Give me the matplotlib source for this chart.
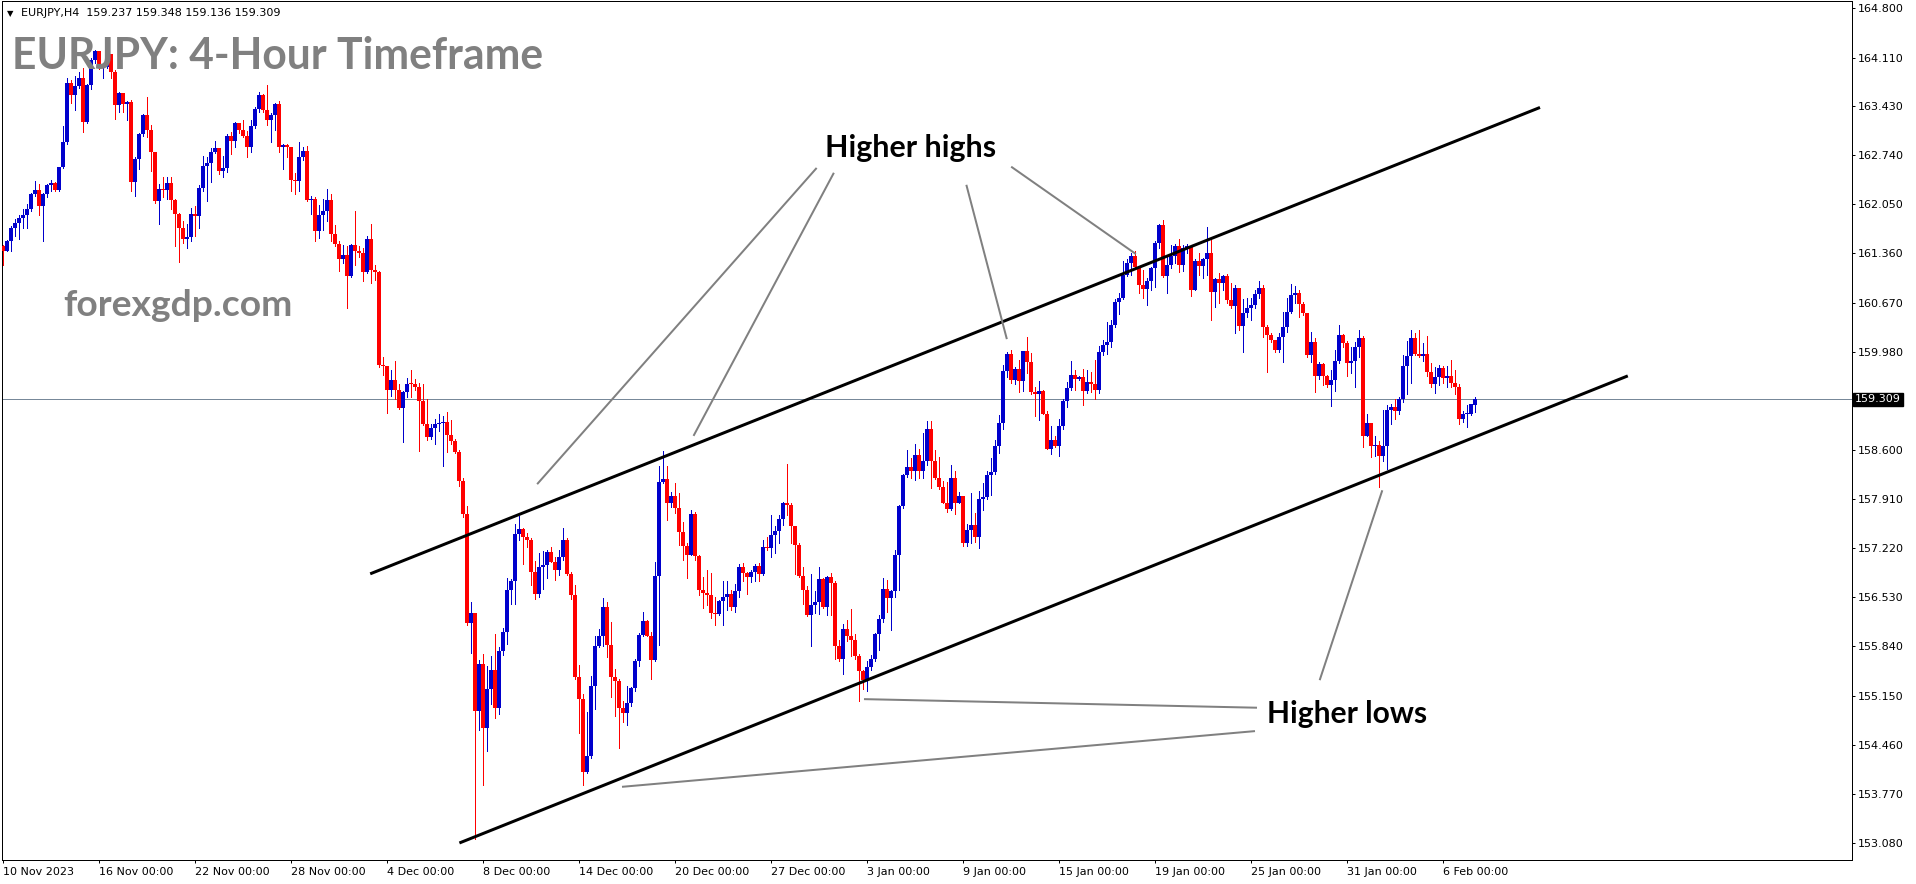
import matplotlib
matplotlib.use("Agg")
import matplotlib.pyplot as plt
import numpy as np

W, H, DPI = 1916, 884, 100

# EURJPY H4 bars, bar 0 = 10 Nov 2023 00:00. Open of a bar = close of the bar before.
first_open = 161.46
last_open = 159.237

closes = [
    161.40, 161.53, 161.72, 161.79, 161.86, 161.90, 161.98, 162.19, 162.25, 162.02,
    162.19, 162.32, 162.35, 162.25, 162.57, 162.93, 163.76, 163.59, 163.71, 163.82,
    163.21, 163.73, 164.08, 164.20, 163.96, 163.98, 164.16, 163.91, 163.45, 163.61,
    163.46, 163.49, 162.37, 162.68, 163.04, 163.30, 163.09, 162.78, 162.09, 162.27,
    162.25, 162.35, 162.11, 161.91, 161.72, 161.56, 161.59, 161.91, 161.88, 162.28,
    162.59, 162.63, 162.79, 162.84, 162.52, 162.56, 163.01, 162.94, 163.19, 163.09,
    163.01, 162.86, 163.15, 163.39, 163.59, 163.37, 163.23, 163.30, 163.46, 162.86,
    162.88, 162.86, 162.39, 162.38, 162.71, 162.80, 162.11, 162.13, 161.68, 161.90,
    161.96, 162.11, 161.63, 161.49, 161.28, 161.34, 161.04, 161.48, 161.40, 161.37,
    161.10, 161.56, 161.13, 161.10, 159.79, 159.78, 159.44, 159.58, 159.44, 159.19,
    159.42, 159.53, 159.52, 159.48, 159.29, 158.96, 158.78, 158.91, 158.96, 158.98,
    158.99, 158.81, 158.73, 158.57, 158.16, 157.70, 156.17, 156.31, 154.94, 155.60,
    154.70, 155.24, 155.51, 154.97, 155.77, 156.04, 156.63, 156.76, 157.42, 157.49,
    157.38, 157.33, 156.89, 156.57, 156.96, 156.99, 157.17, 157.03, 156.91, 157.09,
    157.34, 156.86, 156.56, 155.41, 155.10, 154.07, 154.30, 155.28, 155.85, 155.98,
    156.40, 155.86, 155.41, 155.36, 154.97, 154.91, 155.04, 155.25, 155.63, 156.00,
    156.20, 155.99, 155.65, 156.83, 158.15, 158.19, 157.86, 157.95, 157.79, 157.45,
    157.25, 157.13, 157.70, 157.11, 156.63, 156.59, 156.56, 156.31, 156.29, 156.48,
    156.54, 156.57, 156.40, 156.62, 156.95, 156.87, 156.82, 156.88, 156.97, 156.86,
    157.23, 157.22, 157.41, 157.46, 157.63, 157.86, 157.82, 157.53, 157.27, 156.83,
    156.63, 156.28, 156.42, 156.47, 156.79, 156.40, 156.82, 156.73, 155.85, 155.66,
    156.09, 155.98, 155.93, 155.71, 155.49, 155.37, 155.55, 155.66, 156.02, 156.22,
    156.64, 156.52, 156.62, 157.12, 157.81, 158.25, 158.36, 158.30, 158.53, 158.30,
    158.45, 158.89, 158.45, 158.20, 158.08, 157.86, 157.77, 158.20, 157.86, 157.95,
    157.30, 157.47, 157.55, 157.38, 157.91, 157.94, 158.25, 158.29, 158.66, 158.98,
    159.71, 159.95, 159.58, 159.73, 159.57, 159.99, 159.84, 159.42, 159.38, 159.43,
    159.10, 158.62, 158.74, 158.66, 158.94, 159.29, 159.47, 159.65, 159.60, 159.62,
    159.43, 159.56, 159.53, 159.44, 159.98, 160.08, 160.12, 160.36, 160.68, 160.73,
    161.06, 161.23, 161.32, 161.17, 160.92, 160.86, 160.97, 161.15, 161.50, 161.76,
    161.04, 161.20, 161.32, 161.46, 161.20, 161.43, 161.46, 160.85, 161.26, 161.18,
    161.28, 161.36, 160.82, 161.00, 160.95, 161.04, 160.71, 160.62, 160.87, 160.34,
    160.53, 160.59, 160.64, 160.79, 160.88, 160.33, 160.21, 160.14, 160.00, 160.19,
    160.32, 160.54, 160.78, 160.81, 160.65, 160.52, 159.93, 160.12, 159.64, 159.81,
    159.64, 159.51, 159.58, 159.85, 160.21, 160.10, 159.82, 159.85, 160.04, 160.17,
    158.80, 158.98, 158.65, 158.67, 158.51, 158.65, 159.16, 159.21, 159.14, 159.31,
    159.78, 159.92, 160.17, 159.95, 159.92, 159.95, 159.70, 159.53, 159.63, 159.75,
    159.61, 159.64, 159.54, 159.49, 159.04, 159.10, 159.11, 159.24, 159.309,
]

highs = [
    161.48, 161.55, 161.74, 161.85, 161.90, 161.99, 162.06, 162.21, 162.38, 162.34,
    162.21, 162.34, 162.39, 162.36, 162.58, 163.15, 163.83, 163.80, 163.85, 163.91,
    163.96, 163.74, 164.10, 164.22, 164.10, 164.02, 164.26, 164.05, 163.94, 163.62,
    163.61, 163.50, 163.52, 162.71, 163.05, 163.32, 163.56, 163.16, 162.79, 162.33,
    162.44, 162.44, 162.44, 162.12, 161.93, 161.81, 161.78, 162.00, 162.02, 162.32,
    162.73, 162.72, 162.84, 162.94, 162.81, 162.73, 163.04, 163.06, 163.20, 163.19,
    163.23, 163.08, 163.23, 163.42, 163.62, 163.60, 163.73, 163.33, 163.47, 163.50,
    162.90, 162.90, 162.86, 162.49, 162.93, 162.86, 162.87, 162.16, 162.15, 162.04,
    162.12, 162.26, 162.20, 161.76, 161.53, 161.48, 161.46, 161.49, 161.96, 161.47,
    161.43, 161.60, 161.78, 161.20, 161.12, 159.91, 159.66, 159.72, 159.85, 159.52,
    159.43, 159.61, 159.72, 159.59, 159.54, 159.52, 159.32, 158.96, 159.04, 159.10,
    159.07, 159.13, 159.02, 158.76, 158.60, 158.21, 157.81, 156.46, 156.31, 155.65,
    155.74, 155.57, 155.70, 156.02, 155.83, 156.10, 156.80, 156.79, 157.56, 157.67,
    157.51, 157.44, 157.37, 157.04, 157.15, 157.18, 157.19, 157.23, 157.09, 157.20,
    157.50, 157.36, 156.88, 156.70, 155.58, 155.17, 154.92, 155.42, 155.98, 156.09,
    156.52, 156.47, 156.19, 155.52, 155.39, 155.07, 155.29, 155.27, 155.66, 156.03,
    156.33, 156.21, 156.05, 157.03, 158.37, 158.59, 158.37, 158.01, 158.14, 157.99,
    157.59, 157.29, 157.75, 157.73, 157.12, 156.81, 156.92, 156.87, 156.54, 156.49,
    156.76, 156.76, 156.63, 156.72, 157.00, 157.01, 156.88, 156.92, 157.00, 157.01,
    157.34, 157.38, 157.69, 157.53, 157.69, 157.87, 158.40, 157.85, 157.51, 157.29,
    156.96, 156.69, 156.86, 156.62, 156.96, 156.80, 156.83, 156.87, 156.76, 155.93,
    156.15, 156.21, 156.36, 156.02, 155.74, 155.51, 155.64, 155.72, 156.03, 156.28,
    156.80, 156.78, 156.63, 157.19, 157.83, 158.26, 158.60, 158.48, 158.68, 158.61,
    158.84, 159.00, 159.01, 158.60, 158.50, 158.17, 158.15, 158.39, 158.30, 158.01,
    157.91, 157.56, 157.99, 157.71, 158.03, 158.13, 158.31, 158.48, 158.74, 159.09,
    159.79, 159.97, 160.01, 159.77, 159.86, 159.99, 160.19, 159.96, 159.49, 159.57,
    159.44, 159.14, 158.94, 158.80, 159.03, 159.31, 159.55, 159.85, 159.72, 159.64,
    159.73, 159.72, 159.70, 159.86, 160.06, 160.14, 160.39, 160.42, 160.72, 160.81,
    161.25, 161.28, 161.36, 161.39, 161.17, 161.13, 161.01, 161.17, 161.53, 161.78,
    161.83, 161.34, 161.48, 161.49, 161.56, 161.48, 161.49, 161.43, 161.28, 161.37,
    161.29, 161.73, 161.57, 161.01, 161.09, 161.06, 161.07, 160.94, 160.92, 160.87,
    160.72, 160.73, 160.74, 160.84, 160.97, 160.92, 160.36, 160.24, 160.12, 160.24,
    160.54, 160.73, 160.93, 160.90, 160.84, 160.68, 160.52, 160.25, 160.17, 159.83,
    159.82, 159.65, 159.72, 160.00, 160.35, 160.23, 160.13, 160.04, 160.11, 160.28,
    160.20, 159.11, 158.93, 158.79, 158.72, 159.16, 159.23, 159.25, 159.32, 159.34,
    159.93, 160.13, 160.28, 160.24, 160.28, 160.10, 160.20, 159.82, 159.77, 159.79,
    159.78, 159.78, 159.86, 159.72, 159.53, 159.14, 159.23, 159.25, 159.348,
]

lows = [
    161.20, 161.39, 161.39, 161.60, 161.56, 161.71, 161.71, 161.96, 162.17, 161.90,
    161.53, 162.15, 162.24, 162.24, 162.24, 162.56, 162.89, 163.47, 163.38, 163.69,
    163.06, 163.19, 163.67, 164.03, 163.95, 163.83, 163.97, 163.82, 163.25, 163.35,
    163.34, 163.23, 162.24, 162.16, 162.55, 163.01, 163.00, 162.52, 162.07, 161.78,
    162.15, 162.13, 161.99, 161.46, 161.24, 161.50, 161.43, 161.53, 161.60, 161.71,
    162.24, 162.10, 162.37, 162.77, 162.48, 162.44, 162.51, 162.76, 162.85, 163.05,
    163.00, 162.72, 162.78, 163.12, 163.35, 163.35, 163.16, 162.93, 163.10, 162.79,
    162.54, 162.72, 162.24, 162.20, 162.23, 162.67, 162.09, 161.92, 161.54, 161.57,
    161.69, 161.81, 161.53, 161.46, 161.12, 161.22, 160.60, 161.03, 161.20, 161.31,
    160.97, 161.08, 160.95, 160.98, 159.76, 159.65, 159.12, 159.36, 159.32, 159.17,
    158.71, 159.34, 159.34, 159.44, 158.58, 158.95, 158.74, 158.75, 158.69, 158.86,
    158.38, 158.57, 158.69, 158.56, 158.09, 157.66, 156.14, 155.75, 153.14, 154.66,
    153.89, 154.37, 155.03, 154.84, 154.89, 155.72, 155.87, 156.44, 156.44, 157.33,
    157.00, 157.24, 156.71, 156.51, 156.54, 156.65, 156.80, 157.02, 156.78, 156.84,
    157.05, 156.84, 156.50, 155.39, 154.62, 153.89, 154.06, 154.27, 154.96, 155.83,
    155.84, 155.69, 155.13, 154.86, 154.42, 154.78, 154.74, 155.00, 155.22, 155.56,
    155.98, 155.98, 155.39, 155.63, 155.86, 158.13, 157.61, 157.80, 157.71, 157.27,
    157.05, 156.80, 157.12, 157.05, 156.56, 156.38, 156.42, 156.24, 156.14, 156.28,
    156.14, 156.35, 156.35, 156.33, 156.54, 156.76, 156.57, 156.75, 156.76, 156.76,
    156.84, 157.20, 157.09, 157.15, 157.29, 157.55, 157.69, 157.30, 156.86, 156.82,
    156.44, 156.27, 155.85, 156.31, 156.29, 156.38, 156.28, 156.28, 155.66, 155.64,
    155.45, 155.91, 155.70, 155.67, 155.08, 155.24, 155.22, 155.51, 155.64, 155.79,
    156.19, 156.33, 156.07, 156.53, 156.63, 157.79, 158.22, 158.20, 158.18, 158.20,
    158.20, 158.39, 158.06, 158.19, 158.05, 157.85, 157.73, 157.76, 157.70, 157.85,
    157.25, 157.25, 157.29, 157.31, 157.22, 157.76, 157.91, 157.97, 158.26, 158.55,
    158.89, 159.63, 159.54, 159.53, 159.42, 159.43, 159.68, 159.39, 159.08, 159.02,
    159.10, 158.61, 158.54, 158.64, 158.52, 158.90, 159.21, 159.44, 159.44, 159.58,
    159.23, 159.40, 159.42, 159.31, 159.40, 159.93, 159.95, 160.05, 160.33, 160.51,
    160.72, 161.04, 161.06, 161.15, 160.80, 160.73, 160.64, 160.85, 160.89, 161.43,
    161.03, 160.81, 161.15, 161.22, 161.10, 161.12, 161.36, 160.76, 160.84, 161.06,
    161.01, 161.06, 160.43, 160.61, 160.66, 160.84, 160.67, 160.60, 160.24, 160.28,
    159.98, 160.47, 160.42, 160.60, 160.73, 160.18, 159.70, 160.11, 159.97, 159.98,
    159.83, 160.26, 160.52, 160.66, 160.47, 160.50, 159.91, 159.83, 159.42, 159.59,
    159.51, 159.48, 159.22, 159.43, 159.82, 160.05, 159.64, 159.68, 159.48, 159.91,
    158.64, 158.79, 158.50, 158.51, 158.08, 158.45, 158.33, 158.96, 159.04, 159.11,
    159.28, 159.39, 159.54, 159.93, 159.91, 159.85, 159.64, 159.48, 159.40, 159.51,
    159.54, 159.49, 159.49, 159.39, 158.96, 158.99, 158.92, 159.09, 159.136,
]

current_price = 159.309
header = "EURJPY,H4  159.237 159.348 159.136 159.309"

price_ticks = [164.800, 164.110, 163.430, 162.740, 162.050, 161.360, 160.670, 159.980,
               158.600, 157.910, 157.220, 156.530, 155.840, 155.150, 154.460, 153.770, 153.080]

date_bars = [0, 24, 48, 72, 96, 120, 144, 168, 192, 216, 240, 264, 288, 312, 336, 360]
date_labels = ["10 Nov 2023", "16 Nov 00:00", "22 Nov 00:00", "28 Nov 00:00", "4 Dec 00:00",
               "8 Dec 00:00", "14 Dec 00:00", "20 Dec 00:00", "27 Dec 00:00", "3 Jan 00:00",
               "9 Jan 00:00", "15 Jan 00:00", "19 Jan 00:00", "25 Jan 00:00", "31 Jan 00:00",
               "6 Feb 00:00"]

# channel lines (bar index, price)
upper_channel = ([91.8, 384.25], [156.86, 163.41])
lower_channel = ([114.1, 406.2], [153.08, 159.64])

# grey pointer lines: (bar0, price0, bar1, price1)
high_pointers = [(203.25, 162.55, 133.7, 158.13),
                 (207.6, 162.48, 172.75, 158.81),
                 (240.9, 162.31, 250.9, 160.17),
                 (252.25, 162.57, 283.0, 161.36)]
low_pointers = [(344.75, 158.02, 329.25, 155.38),
                (215.5, 155.10, 313.25, 154.98),
                (155.0, 153.87, 312.75, 154.65)]

BULL = "#0000CC"
BEAR = "#FF0000"
PX = 72.0 / DPI  # one pixel in points

plt.rcParams["font.family"] = "DejaVu Sans"
plt.rcParams["font.size"] = 8

fig = plt.figure(figsize=(W / DPI, H / DPI), dpi=DPI)
ax = fig.add_axes([2 / W, 24 / H, 1850 / W, 859 / H])
ax.set_xlim(-0.25, 462.25)
ax.set_ylim(152.841, 164.905)

c = np.array(closes)
h = np.array(highs)
l = np.array(lows)
o = np.r_[first_open, c[:-1]]
o[-1] = last_open
h = np.maximum(h, np.maximum(o, c))
l = np.minimum(l, np.minimum(o, c))
idx = np.arange(len(c))
colors = np.where(c >= o, BULL, BEAR)

ax.axhline(current_price, color="#778899", lw=PX, zorder=1)
ax.vlines(idx, l, h, colors=colors, lw=PX, zorder=3, antialiased=False)
body_bottom = np.minimum(o, c)
body_height = np.maximum(np.abs(c - o), 0.016)
ax.bar(idx, body_height, bottom=body_bottom, width=0.82, color=colors,
       linewidth=0, zorder=3, antialiased=False)

ax.plot(*upper_channel, color="black", lw=3 * PX, solid_capstyle="butt", zorder=4)
ax.plot(*lower_channel, color="black", lw=3 * PX, solid_capstyle="butt", zorder=4)
for x0, y0, x1, y1 in high_pointers + low_pointers:
    ax.plot([x0, x1], [y0, y1], color="#808080", lw=2 * PX, zorder=5)

# axes styling, MT4 like
for sp in ax.spines.values():
    sp.set_linewidth(PX)
    sp.set_color("black")
ax.yaxis.tick_right()
ax.set_yticks(price_ticks)
ax.set_yticklabels([f"{p:.3f}" for p in price_ticks])
ax.set_xticks(date_bars)
ax.set_xticklabels(date_labels)
for lab in ax.get_xticklabels():
    lab.set_horizontalalignment("left")
ax.tick_params(axis="y", direction="out", length=3 * PX, width=PX, pad=3 * PX)
ax.tick_params(axis="x", direction="out", length=3 * PX, width=PX, pad=4 * PX)

ax.annotate(f"{current_price:.3f}", xy=(1, current_price), xycoords=("axes fraction", "data"),
            xytext=(3 * PX, 0), textcoords="offset points", ha="left", va="center",
            color="white", fontsize=8,
            bbox=dict(boxstyle="square,pad=0.15", fc="black", ec="black"))

# texts
fig.text(7 / W, 1 - 14 / H, "\u25BC", fontsize=6, va="center", ha="left")
fig.text(21 / W, 1 - 13.5 / H, header, fontsize=8, va="center", ha="left")

title = fig.text(12.5 / W, 1 - 69 / H, "EURJPY: 4-Hour Timeframe", family="Lato",
                 weight="bold", color="#808080", fontsize=30, va="baseline", ha="left", zorder=0)
brand = fig.text(63.5 / W, 1 - 316 / H, "forexgdp.com", family="Lato", weight="bold",
                 color="#808080", fontsize=24, va="baseline", ha="left")
hh = ax.text(226.9, 162.72, "Higher highs", family="Lato", weight="bold", color="black",
             fontsize=20, ha="center", va="baseline", zorder=6)
hl = ax.text(336.0, 154.76, "Higher lows", family="Lato", weight="bold", color="black",
             fontsize=20, ha="center", va="baseline", zorder=6)


def fit_width(txt, target_px):
    r = fig.canvas.get_renderer()
    for _ in range(3):
        w = txt.get_window_extent(r).width
        txt.set_fontsize(txt.get_fontsize() * target_px / w)


fit_width(title, 532)
fit_width(brand, 229)
fit_width(hh, 171)
fit_width(hl, 160)

fig.savefig("out.png", dpi=DPI, facecolor="white")
